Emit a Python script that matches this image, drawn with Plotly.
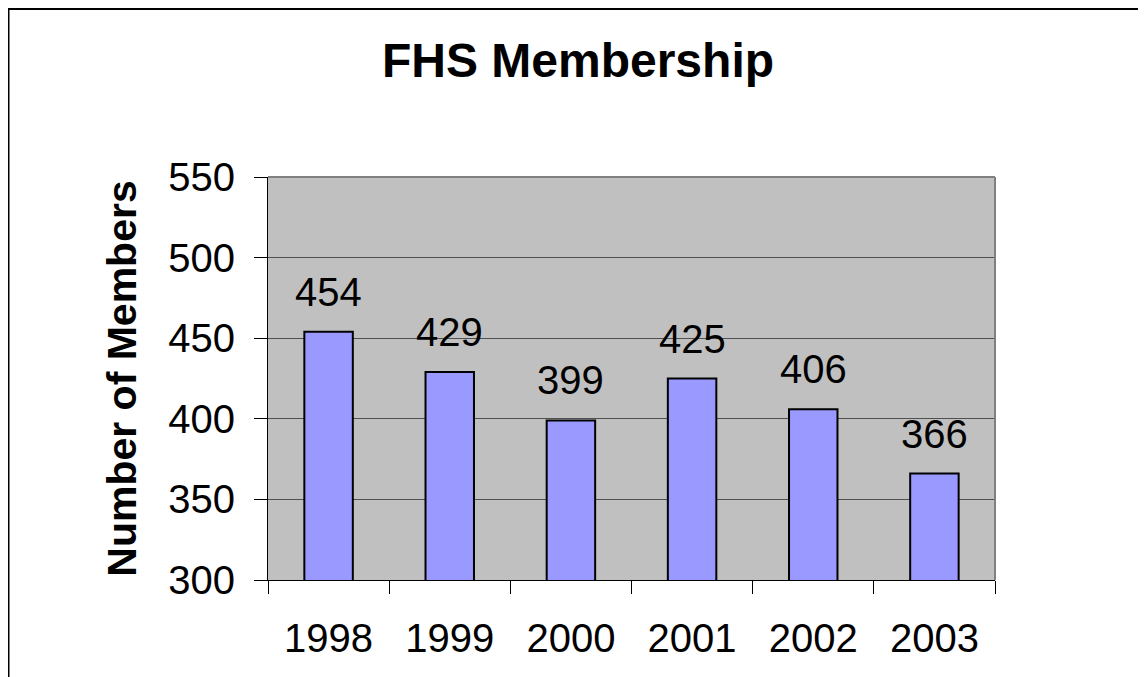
import plotly.graph_objects as go

# FHS membership counts per year
years = ['1998', '1999', '2000', '2001', '2002', '2003']
members = [454, 429, 399, 425, 406, 366]
y_ticks = [300, 350, 400, 450, 500, 550]

FONT = "Arial, 'Liberation Sans', sans-serif"
W, H = 1146, 677
L, R, T, B = 260, 159, 169, 105
pw = W - L - R
ph = H - T - B

fig = go.Figure()
fig.add_trace(go.Bar(
    x=years, y=members,
    marker=dict(color='#9999FF', line=dict(color='black', width=2)),
    hoverinfo='x+y',
))

# value labels above the bars (category axis -> use the serial index)
for i, val in enumerate(members):
    fig.add_annotation(x=i, y=val, text=str(val), showarrow=False,
                       yanchor='bottom', yshift=16,
                       font=dict(family=FONT, size=40, color='black'))

# outer chart border (paper coords converted from pixels)
def px_x(p):
    return (p - L) / pw

def px_y(p):
    return (H - B - p) / ph

fig.add_shape(type='rect', xref='paper', yref='paper',
              x0=px_x(0.5), x1=px_x(1160), y0=px_y(720), y1=px_y(1),
              line=dict(color='black', width=2), layer='below')
# gray frame on top and right of the plot area
fig.add_shape(type='line', xref='paper', yref='paper', x0=0, x1=1, y0=1, y1=1,
              line=dict(color='#808080', width=2))
fig.add_shape(type='line', xref='paper', yref='paper', x0=1, x1=1, y0=0, y1=1,
              line=dict(color='#808080', width=2))

fig.update_layout(
    width=W, height=H,
    margin=dict(l=L, r=R, t=T, b=B),
    paper_bgcolor='white',
    plot_bgcolor='#C0C0C0',
    bargap=0.6,
    showlegend=False,
    font=dict(family=FONT, color='black'),
    title=dict(text='<b>FHS Membership</b>', x=570 / W, xref='container',
               xanchor='center', y=1 - 52 / H, yanchor='middle',
               font=dict(family=FONT, size=48, color='black')),
)

fig.update_xaxes(
    type='category', range=[-0.5, 5.5], tickson='boundaries',
    ticks='outside', ticklen=13,
    tickcolor='black', tickwidth=1, showline=True, linecolor='black',
    linewidth=1, showgrid=False, tickfont=dict(family=FONT, size=40),
    ticklabelstandoff=23, automargin=False,
)
fig.update_yaxes(
    range=[300, 550], tickvals=y_ticks, ticks='outside', ticklen=13,
    tickcolor='black', tickwidth=1, showline=True, linecolor='black',
    linewidth=1, showgrid=True, gridcolor='#505050', gridwidth=1,
    zeroline=False, tickfont=dict(family=FONT, size=40),
    ticklabelstandoff=11,
    title=dict(text='<b>Number of Members</b>', standoff=18,
               font=dict(family=FONT, size=41)),
    automargin=False,
)

fig.write_html("out.html")
